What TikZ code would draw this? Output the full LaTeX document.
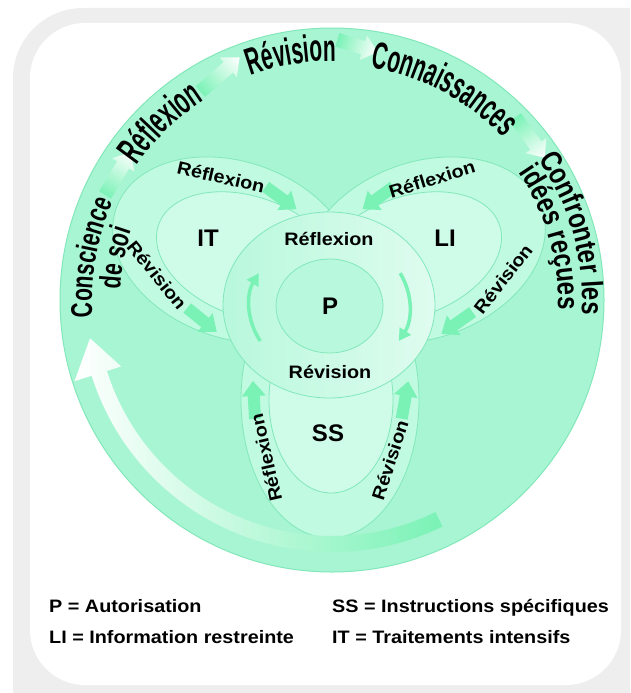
\documentclass[tikz,border=0pt]{standalone}
\usepackage{fontspec}
\setmainfont{Liberation Sans}
\newfontfamily\labelfont[FakeStretch=1.1]{Liberation Sans}
\newfontfamily\rimfont[FakeStretch=0.7]{Liberation Sans}
\newfontfamily\rimwidefont[FakeStretch=0.8]{Liberation Sans}
\newfontfamily\crestfont[FakeStretch=0.55]{Liberation Sans}
\usetikzlibrary{decorations.text,arrows.meta}
\definecolor{mint}{RGB}{167,245,210}
\definecolor{mintline}{RGB}{130,232,186}
\definecolor{lobe}{RGB}{192,250,224}
\definecolor{lobein}{RGB}{206,252,233}
\definecolor{hub}{RGB}{184,248,220}
\definecolor{flow}{RGB}{122,242,182}
\definecolor{framegray}{RGB}{238,238,238}

\newcommand\creststyle{\crestfont\bfseries\fontsize{38}{38}\selectfont}
\newcommand\rimstyle{\rimfont\bfseries\fontsize{30}{30}\selectfont}
\newcommand\rimwidestyle{\rimwidefont\bfseries\fontsize{30}{30}\selectfont}
\newcommand\flowarrow[3]{\fill[flow,shift={(#1,#2)},rotate=#3]
  (-19,-6) -- (4,-6) -- (4,-12) -- (19,0) -- (4,12) -- (4,6) -- (-19,6) -- cycle;}
\newcommand\glowarrow[4]{\begin{scope}[transform canvas={shift={(#1,#2)},rotate=#3}]
  \shade[left color=flow,right color=white] (-#4,-7) -- (#4-15,-7) -- (#4-15,-13)
    -- (#4,0) -- (#4-15,13) -- (#4-15,7) -- (-#4,7) -- cycle;
  \end{scope}}
\newcommand\rimtext[4]{\path[decorate,decoration={text along path,text align=center,
  text={|#4|#3}}] (332,-300) ++(#1+50:#2) arc[start angle=#1+50,end angle=#1-50,radius=#2];}

\begin{document}
\begin{tikzpicture}[x=1pt,y=1pt,
  petal/.style={fill=lobe,draw=mintline,line width=0.8},
  core/.style={fill=lobein,draw=mintline,line width=0.8},
  word/.style={font=\labelfont\bfseries\fontsize{18}{18}\selectfont,inner sep=0},
  tag/.style={font=\bfseries\fontsize{24}{24}\selectfont,inner sep=0},
  key/.style={font=\labelfont\bfseries\fontsize{18}{18}\selectfont,inner sep=0,anchor=base west},
  spin/.style={draw=flow,line width=3.5pt,-{Triangle[width=13pt,length=12pt]}}]
\useasboundingbox (0,0) rectangle (630,-693);
\clip (0,0) rectangle (630,-693);
\fill[framegray,rounded corners=70] (13,-8) rectangle (700,-760);
\fill[white,rounded corners=55] (30,-23) rectangle (621,-685);

\filldraw[fill=mint,draw=mintline,line width=1] (332,-300) circle (272);

\filldraw[petal] (330,-400) ellipse [x radius=89,y radius=138];
\filldraw[petal,rotate around={160:(234,-250)}] (234,-250) ellipse [x radius=125,y radius=88];
\filldraw[petal,rotate around={20:(424,-250)}] (424,-250) ellipse [x radius=125,y radius=88];
\filldraw[core] (331,-400) ellipse [x radius=62,y radius=93];
\filldraw[core,rotate around={160:(249,-257)}] (249,-257) ellipse [x radius=96,y radius=60];
\filldraw[core,rotate around={20:(409,-257)}] (409,-257) ellipse [x radius=96,y radius=60];

\shade[left color=hub,right color=white!55!hub] (329,-305) ellipse [x radius=106,y radius=93];
\draw[mintline,line width=0.8] (329,-305) ellipse [x radius=106,y radius=93];
\filldraw[fill=hub,draw=mintline,line width=0.8] (329.5,-306) ellipse [x radius=53.5,y radius=47];

\flowarrow{281}{-198}{-36}
\flowarrow{378}{-198}{216}
\flowarrow{202}{-320}{-39}
\flowarrow{457}{-323}{215}
\flowarrow{254}{-400}{93}
\flowarrow{405}{-400}{80}

\glowarrow{118}{-173.5}{59}{25}
\glowarrow{220}{-74.5}{41}{26}
\glowarrow{357.5}{-46}{-17}{21}
\glowarrow{530}{-137.5}{-54}{25}

\begin{scope}[shift={(332,-300)}]
\shade[left color=white,right color=flow] (296:252) arc[start angle=296,end angle=197.5,radius=252]
  -- (197.5:270) -- (189:245) -- (197.5:221) -- (197.5:236)
  arc[start angle=197.5,end angle=296,radius=236] -- cycle;
\end{scope}

\draw[spin] (329.5,-306) ++(210:80 and 70) arc[start angle=210,end angle=152,x radius=80,y radius=70];
\draw[spin] (329.5,-306) ++(28:80 and 70) arc[start angle=28,end angle=-30,x radius=80,y radius=70];

\node[word,rotate=-13] (itup) at (221,-177) {Réflexion};
\node[word,rotate=17] (liup) at (432,-179) {Réflexion};
\node[word,rotate=-51] (itlow) at (157,-275) {Révision};
\node[word,rotate=52] (lilow) at (503,-279) {Révision};
\node[word,rotate=103] (ssleft) at (266,-458) {Réflexion};
\node[word,rotate=72] (ssright) at (390,-460) {Révision};
\node[word] (hubtop) at (329,-239) {Réflexion};
\node[word] (hubbot) at (330,-372) {Révision};
\node[tag] (ptag) at (330,-306) {P};
\node[tag] (ittag) at (208,-238) {IT};
\node[tag] (litag) at (445,-238) {LI};
\node[tag] (sstag) at (328,-433) {SS};

\rimtext{134}{237}{Réflexion}{\creststyle}
\rimtext{99.5}{239}{Révision}{\creststyle}
\rimtext{62}{236}{Connaissances}{\creststyle}
\rimtext{170}{240}{Conscience}{\rimstyle}
\rimtext{169}{212}{de soi}{\rimstyle}
\rimtext{15.5}{250}{Confronter les}{\rimwidestyle}
\rimtext{16}{226}{idées reçues}{\rimwidestyle}

\node[key] (keyp) at (49,-612) {P = Autorisation};
\node[key] (keyli) at (49,-643) {LI = Information restreinte};
\node[key] (keyss) at (332,-612) {SS = Instructions spécifiques};
\node[key] (keyit) at (332,-643) {IT = Traitements intensifs};
\end{tikzpicture}
\end{document}
